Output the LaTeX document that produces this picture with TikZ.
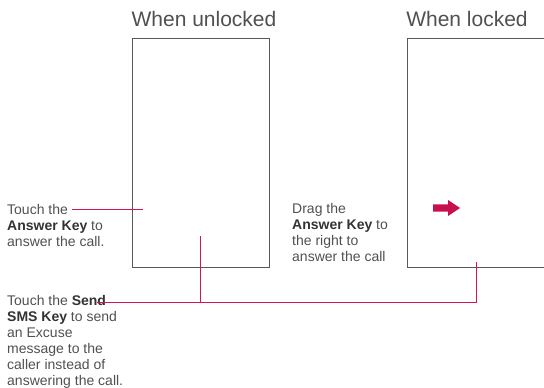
\documentclass[tikz,border=0pt]{standalone}
\usepackage{fontspec}
\setmainfont{Liberation Sans}
\usetikzlibrary{positioning}
\definecolor{callred}{RGB}{212,20,90}
\definecolor{arrred}{RGB}{200,16,78}
\definecolor{txtgray}{RGB}{80,80,80}
\newcommand{\keyname}[1]{\textbf{\color{black!80}#1}}

\begin{document}
\begin{tikzpicture}[x=1pt,y=-1pt,
  every node/.style={text=txtgray},
  screen/.style={draw=black!65, line width=0.8pt, minimum width=137pt, minimum height=229pt, inner sep=0pt},
  title/.style={font=\fontsize{21}{25}\selectfont, anchor=base, inner sep=0pt},
  note/.style={font=\fontsize{14}{16}\selectfont, align=left, anchor=north west, inner sep=0pt},
  callout/.style={draw=callred, line width=0.8pt}]

\useasboundingbox (0,0) rectangle (544,388);

\node[screen] (unl) at (200.5,152.5) {};
\node[screen, minimum width=160pt] (lck) at (487,152.5) {};

\node[title] (tunl) at (204,26) {When unlocked};
\node[title] (tlck) at (467,26) {When locked};

\node[note] (ans) at (7,204.3) {Touch the\\\keyname{Answer Key} to\\answer the call.};
\node[note] (drag) at (292,203.3) {Drag the\\\keyname{Answer Key} to\\the right to\\answer the call};
\node[note] (sms) at (7,294.8) {Touch the \keyname{Send}\\\keyname{SMS Key} to send\\an Excuse\\message to the\\caller instead of\\answering the call.};

\coordinate (ansend) at (72,209);
\coordinate (anstip) at (143,209);
\coordinate (smsend) at (97,302);
\coordinate (unltip) at (200,236);
\coordinate (lcktip) at (476,262);

\draw[callout] (ansend) -- (anstip);
\draw[callout] (smsend) -- (lcktip |- smsend) -- (lcktip);
\draw[callout] (unltip |- smsend) -- (unltip);

\fill[arrred] (433,204.3) -- (448,204.3) -- (448,200) -- (460,208) -- (448,216)
  -- (448,211.7) -- (433,211.7) -- cycle;
\end{tikzpicture}
\end{document}
